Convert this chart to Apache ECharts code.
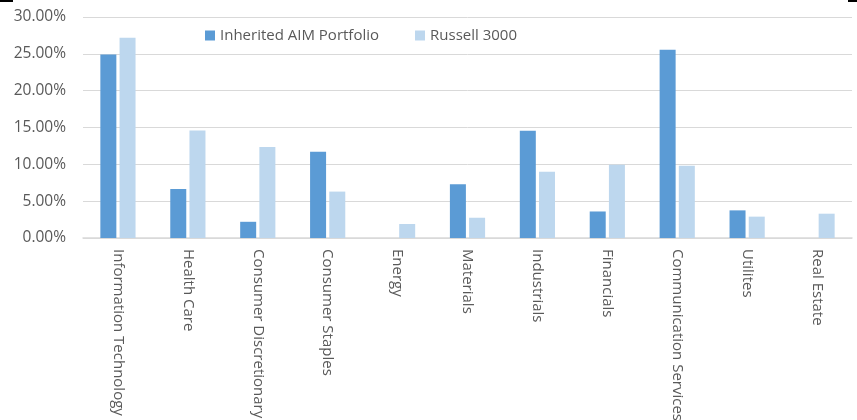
<!DOCTYPE html>
<html><head><meta charset="utf-8">
<script src="https://cdn.jsdelivr.net/npm/echarts@6/dist/echarts.min.js"></script>
<style>html,body{margin:0;padding:0;background:#fff}#c{width:857px;height:420px}</style>
</head><body><div id="c"></div>
<script>
const categories = ["Information Technology","Health Care","Consumer Discretionary","Consumer Staples","Energy","Materials","Industrials","Financials","Communication Services","Utilites","Real Estate"];
const portfolio = [24.9, 6.65, 2.2, 11.7, null, 7.3, 14.55, 3.6, 25.55, 3.75, null];
const russell = [27.2, 14.6, 12.35, 6.3, 1.9, 2.75, 9.0, 9.95, 9.8, 2.9, 3.3];
const seriesNames = ["Inherited AIM Portfolio","Russell 3000"];
const yTicks = [0,5,10,15,20,25,30];

const font = "'Open Sans', sans-serif";
const chart = echarts.init(document.getElementById('c'), null, {renderer:'canvas'});
chart.setOption({
  animation:false,
  textStyle:{fontFamily:font},
  graphic:[
    {type:'rect', shape:{x:0,y:0,width:13,height:2}, style:{fill:'#000'}},
    {type:'rect', shape:{x:848,y:0,width:9,height:2}, style:{fill:'#000'}}
  ],
  legend:{
    left:205, top:28, padding:0, itemWidth:10, itemHeight:10, itemGap:36,
    icon:'rect',
    textStyle:{fontFamily:font, fontSize:15, color:'#595959'},
    data:seriesNames
  },
  grid:{left:83, right:5, top:17, bottom:182, containLabel:false, outerBoundsMode:'none'},
  xAxis:{
    type:'category', data:categories,
    axisLine:{show:true, lineStyle:{color:'#D9D9D9', width:1.5}},
    axisTick:{show:false},
    axisLabel:{rotate:-90, interval:0, margin:11, fontFamily:font, fontSize:15, color:'#595959'}
  },
  yAxis:{
    type:'value', min:yTicks[0], max:yTicks[yTicks.length-1], interval:5,
    axisLine:{show:false}, axisTick:{show:false},
    splitLine:{lineStyle:{color:'#D9D9D9', width:1}},
    axisLabel:{margin:17, fontFamily:font, fontSize:15.5, color:'#595959', formatter:v=>v.toFixed(2)+'%'}
  },
  series:[
    {name:seriesNames[0], type:'bar', data:portfolio, barWidth:16, barGap:'20%', itemStyle:{color:'#5B9BD5'}},
    {name:seriesNames[1], type:'bar', data:russell, barWidth:16, barGap:'20%', itemStyle:{color:'#BDD7EE'}}
  ]
});
</script></body></html>
